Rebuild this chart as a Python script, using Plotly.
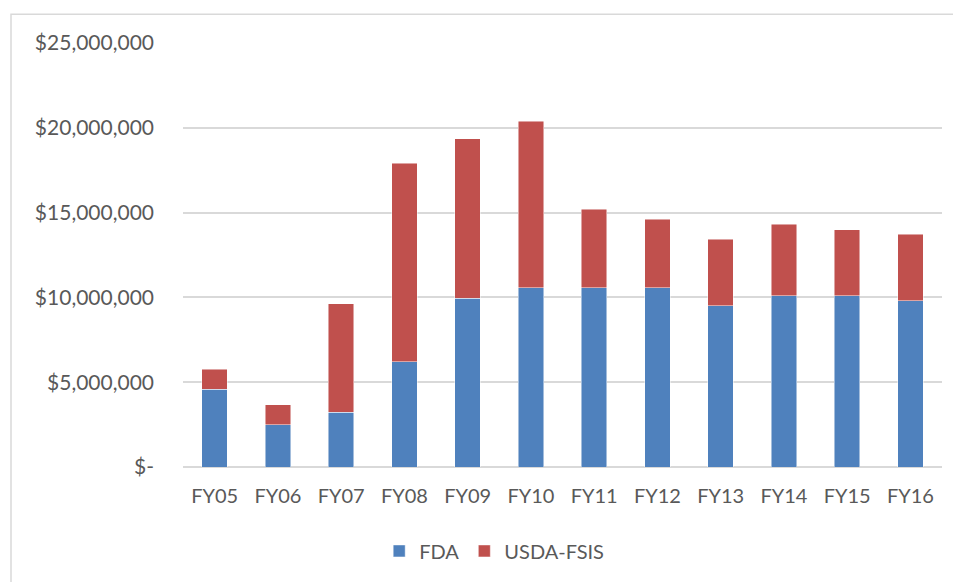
import plotly.graph_objects as go

categories = ["FY05", "FY06", "FY07", "FY08", "FY09", "FY10",
              "FY11", "FY12", "FY13", "FY14", "FY15", "FY16"]
fda = [4570000, 2500000, 3240000, 6220000, 9950000, 10580000,
       10580000, 10580000, 9520000, 10110000, 10110000, 9790000]
usda_fsis = [1180000, 1160000, 6380000, 11700000, 9400000, 9800000,
             4620000, 4020000, 3910000, 4190000, 3870000, 3920000]
tick_vals = [0, 5000000, 10000000, 15000000, 20000000, 25000000]
tick_text = ["$-", "$5,000,000", "$10,000,000", "$15,000,000", "$20,000,000", "$25,000,000"]

FONT = "Lato, 'Open Sans', sans-serif"
TXT = "#595959"

fig = go.Figure()
fig.add_trace(go.Bar(name="FDA", x=categories, y=fda,
                     marker=dict(color="#4F81BD", line=dict(color="rgba(255,255,255,0.6)", width=0.8))))
fig.add_trace(go.Bar(name="USDA-FSIS", x=categories, y=usda_fsis,
                     marker=dict(color="#C0504D", line=dict(color="rgba(255,255,255,0.6)", width=0.8))))

fig.update_layout(
    barmode="stack",
    bargap=0.6,
    width=953, height=574,
    margin=dict(l=175, r=19, t=35, b=115),
    paper_bgcolor="white", plot_bgcolor="white",
    font=dict(family=FONT, color=TXT, size=20),
    showlegend=True,
    legend=dict(orientation="h", x=0.41, xanchor="center", y=-0.198, yanchor="middle",
                font=dict(family=FONT, size=20, color=TXT), itemwidth=30, traceorder="normal"),
    xaxis=dict(showgrid=False, showline=False, ticks="", tickfont=dict(size=20, color=TXT),
               ticklabelstandoff=15),
    yaxis=dict(range=[0, 25000000], tickvals=tick_vals, ticktext=tick_text,
               showgrid=True, gridcolor="#D9D9D9", gridwidth=1.5,
               zeroline=True, zerolinecolor="#D9D9D9", zerolinewidth=1.5,
               showline=False, ticks="", ticklabelstandoff=28,
               tickfont=dict(size=21, color=TXT)),
    shapes=[dict(type="rect", xref="paper", yref="paper",
                 x0=-0.2266, x1=1.06, y0=-0.35, y1=1.068,
                 line=dict(color="#D9D9D9", width=1.5), fillcolor="rgba(0,0,0,0)", layer="below")],
)

fig.write_html("out.html")
